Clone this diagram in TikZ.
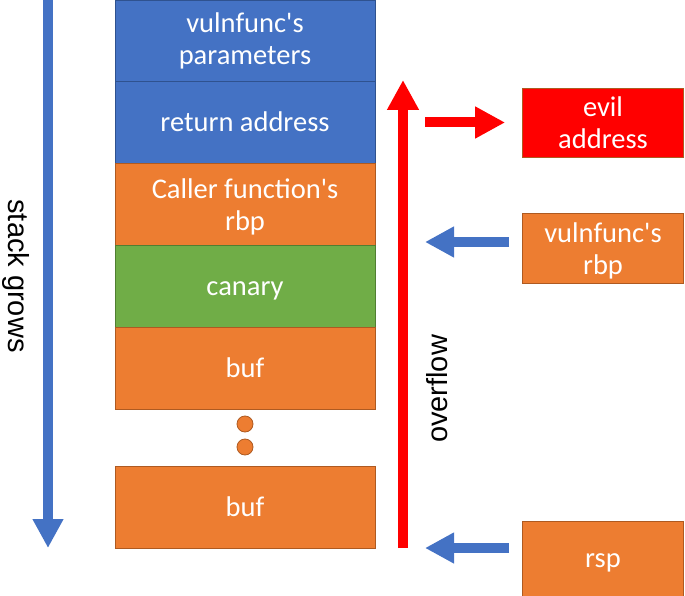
\documentclass[tikz,border=0pt]{standalone}
\usepackage{fontspec}
\newfontfamily\boxfont{Carlito}
\newfontfamily\arialfont{Liberation Sans}
\usetikzlibrary{arrows.meta}
\definecolor{ublue}{HTML}{4472C4}
\definecolor{ubluedark}{HTML}{2F528F}
\definecolor{uorange}{HTML}{ED7D31}
\definecolor{uorangedark}{HTML}{AE5A21}
\definecolor{ugreen}{HTML}{70AD47}
\definecolor{ugreendark}{HTML}{507E32}
\definecolor{ured}{HTML}{FF0000}
\newcommand{\tallstrut}{\rule{0pt}{26pt}}
\tikzset{
  cell/.style={rectangle, minimum width=260pt, minimum height=82pt, inner sep=0pt,
    line width=0.8pt, text=white, align=center, font=\boxfont\fontsize{28.5}{32}\selectfont},
  oneline/.style={text height=20pt, text depth=2pt},
  bluecell/.style={cell, fill=ublue, draw=ubluedark},
  orangecell/.style={cell, fill=uorange, draw=uorangedark},
  greencell/.style={cell, fill=ugreen, draw=ugreendark},
  sidebox/.style={rectangle, minimum width=161pt, inner sep=0pt, line width=0.8pt,
    text=white, align=center, font=\boxfont\fontsize{28.5}{32}\selectfont},
  dotnode/.style={circle, minimum size=16pt, inner sep=0pt, fill=uorange, draw=uorangedark, line width=0.8pt},
  bluearrow/.style={draw=ublue, line width=10pt, -{Triangle[width=29pt,length=29pt]}},
  redarrow/.style={draw=ured, line width=10pt, -{Triangle[width=30pt,length=30pt]}},
  sidelabel/.style={font=\arialfont\fontsize{29}{32}\selectfont, text=black, inner sep=0pt}
}
\begin{document}
\begin{tikzpicture}[x=1pt,y=-1pt]
\useasboundingbox (0,0) rectangle (685,596);
% stack column
\node[bluecell] (params) at (245,41) {vulnfunc's\\parameters};
\node[bluecell, oneline] (ret) at (245,122.5) {return address};
\node[orangecell] (callerrbp) at (245,204) {\tallstrut Caller function's\\rbp};
\node[greencell, oneline] (canary) at (245,286) {canary};
\node[orangecell, oneline] (buf1) at (245,368) {buf};
\node[dotnode] (dot1) at (245,424) {};
\node[dotnode] (dot2) at (245,447) {};
\node[orangecell, oneline] (buf2) at (245,507) {buf};
% side boxes
\node[sidebox, minimum height=69pt, fill=ured, draw=uorangedark] (evil) at (603,122.5) {evil\\address};
\node[sidebox, minimum height=70pt, fill=uorange, draw=uorangedark] (vrbp) at (603,248) {\tallstrut vulnfunc's\\rbp};
\node[sidebox, oneline, minimum height=75pt, fill=uorange, draw=uorangedark] (rsp) at (603,558.5) {rsp};
% stack grows arrow
\coordinate (sgtop) at (48,0);
\coordinate (sgbot) at (48,548);
\draw[bluearrow] (sgtop) -- (sgbot);
\node[sidelabel, rotate=-90] (sglabel) at (16,276) {stack grows};
% overflow arrow
\coordinate (ofbot) at (403,548);
\coordinate (oftop) at (403,80);
\draw[redarrow] (ofbot) -- (oftop);
\node[sidelabel, rotate=90] (oflabel) at (437,389) {overflow};
% red arrow to evil address
\coordinate (evstart) at (425,122.5);
\draw[redarrow, shorten >=17pt] (evstart) -- (evil.west);
% blue arrows
\coordinate (vrbptip) at (425,242);
\draw[bluearrow, shorten <=13pt] (vrbp.west |- vrbptip) -- (vrbptip);
\coordinate (rsptip) at (425,548);
\draw[bluearrow, shorten <=13pt] (rsp.west |- rsptip) -- (rsptip);
\end{tikzpicture}
\end{document}
